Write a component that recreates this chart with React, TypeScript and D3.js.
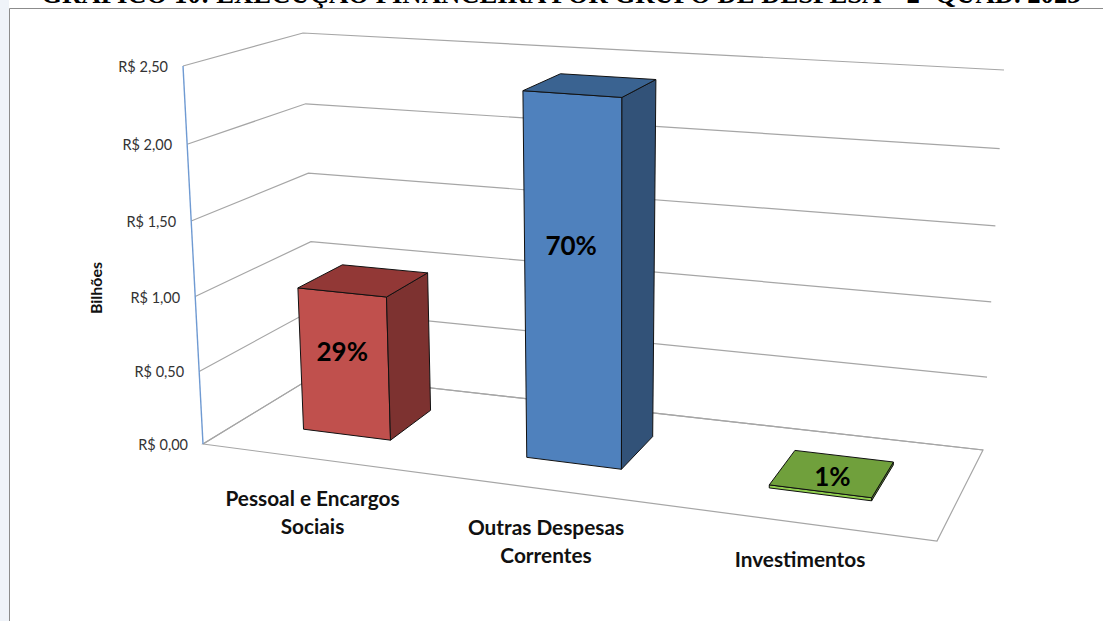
import React from "react";
import * as d3 from "d3";

const title = "GRÁFICO 10: EXECUÇÃO FINANCEIRA POR GRUPO DE DESPESA – 2º QUAD. 2023";
const categories = ["Pessoal e Encargos|Sociais", "Outras Despesas|Correntes", "Investimentos"];
const values = [0.98, 2.4, 0.02];
const shares = ["29%", "70%", "1%"];
const ticks = [0, 0.5, 1, 1.5, 2, 2.5];
const tickLabels = ["R$ 0,00", "R$ 0,50", "R$ 1,00", "R$ 1,50", "R$ 2,00", "R$ 2,50"];
const tones = [
  { front: "#c0504d", top: "#923836", side: "#7d3230" },
  { front: "#4f81bd", top: "#3a6391", side: "#325278" },
  { front: "#92d050", top: "#70a03c", side: "#5f8a30" },
];

type P = [number, number];
const floor = { fl: [203, 444] as P, fr: [937, 541] as P, bl: [316, 375] as P, br: [983, 450] as P };
const roof = { fl: [183, 66] as P, fr: [951, 121] as P, bl: [303, 33] as P, br: [1004, 70] as P };

const rise = d3.scaleLinear().domain(ticks).range([0, 0.192, 0.39, 0.59, 0.793, 1]);
const band = d3.scaleBand<string>().domain(categories).range([0, 1]).paddingInner(0.6).paddingOuter(0.3);
const warp = (t: number) => 0.876 * t + 0.1215 * t * t;
const depth0 = 0.33;
const depth1 = 0.735;

const mix = (a: P, b: P, t: number): P => [a[0] + (b[0] - a[0]) * t, a[1] + (b[1] - a[1]) * t];
const plane = (q: typeof floor, u: number, d: number) => mix(mix(q.fl, q.fr, u), mix(q.bl, q.br, u), d);
const project = (u: number, d: number, v: number): P => mix(plane(floor, u, d), plane(roof, u, d), rise(v));
const poly = (pts: P[]) => d3.line()(pts)! + "Z";

const GRID = "#a6a6a6";
const SANS = "Lato";
const labelHeight = [0.585, 0.597, 1];
const labelShift: P[] = [[-2, 9], [-2, 9], [1, 13]];
const catCx = [312.5, 546, 800];
const catTop = [506, 535, 567];

export default function App() {
  return (
    <svg width={1103} height={621} style={{ position: "fixed", left: 0, top: 0, background: "#fff" }}>
      <rect x={0} y={0} width={9} height={621} fill="#eff3f9" />
      <text x={561} y={3} textAnchor="middle" fontFamily="Liberation Serif" fontWeight="bold" fontSize={26.7} fill="#000">{title}</text>
      <path d="M9.5,621V8.5H1103" fill="none" stroke="#8c8c8c" strokeWidth={1} />

      {ticks.map((t) => (
        <path key={t} d={d3.line()([project(0, 0, t), project(0, 1, t), project(1, 1, t)])!} fill="none" stroke={GRID} strokeWidth={1.2} />
      ))}
      <path d={poly([project(0, 0, 0), project(1, 0, 0), project(1, 1, 0), project(0, 1, 0)])} fill="none" stroke={GRID} strokeWidth={1.2} />
      <path d={d3.line()([project(0, 0, 0), project(0, 0, 2.5)])!} stroke="#6f9ad2" strokeWidth={1.4} fill="none" />

      {ticks.map((t, i) => {
        const [x, y] = project(0, 0, t);
        return <text key={t} x={x - 15} y={y + 6} textAnchor="end" fontFamily={SANS} fontSize={14.5} fill="#333">{tickLabels[i]}</text>;
      })}
      <text transform="translate(102,288) rotate(-90)" textAnchor="middle" fontFamily={SANS} fontWeight="bold" fontSize={16} fill="#111">Bilhões</text>

      {categories.map((c, i) => {
        const u0 = warp(band(c)!);
        const u1 = warp(band(c)! + band.bandwidth());
        const v = values[i];
        const tone = tones[i];
        const a = project(u0, depth0, 0), b = project(u1, depth0, 0), e = project(u1, depth1, 0);
        const f = project(u0, depth0, v), g = project(u1, depth0, v), h = project(u1, depth1, v), k = project(u0, depth1, v);
        const flat = i === 2;
        const anchor = flat ? mix(f, h, 0.5) : project((u0 + u1) / 2, depth0, v * labelHeight[i]);
        return (
          <g key={c} stroke="#111" strokeWidth={1}>
            <path d={poly([a, b, g, f])} fill={tone.front} />
            <path d={poly([b, e, h, g])} fill={tone.side} />
            <path d={poly([f, g, h, k])} fill={tone.top} />
            <text x={anchor[0] + labelShift[i][0]} y={anchor[1] + labelShift[i][1]} textAnchor="middle" stroke="none" fontFamily={SANS} fontWeight="bold" fontSize={26} fill="#000">{shares[i]}</text>
          </g>
        );
      })}

      {categories.map((c, i) => {
        const lines = c.split("|");
        return lines.map((l, j) => (
          <text key={l} x={catCx[i]} y={catTop[i] + j * 28} textAnchor="middle" fontFamily={SANS} fontWeight="bold" fontSize={20.8} fill="#111">{l}</text>
        ));
      })}
    </svg>
  );
}
